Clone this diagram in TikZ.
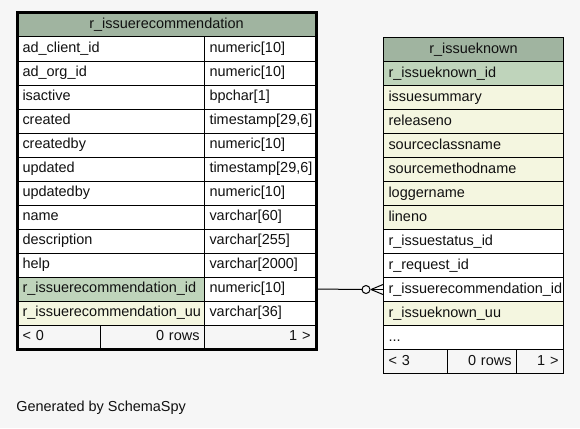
\documentclass[tikz,border=0pt]{standalone}
\usepackage{fontspec}
\setmainfont{Liberation Sans}
\usetikzlibrary{calc}
\definecolor{bgc}{HTML}{F6F6F6}
\definecolor{hdrc}{HTML}{A0B4A0}
\definecolor{pkc}{HTML}{BFD4BB}
\definecolor{ylc}{HTML}{F4F6E0}
\definecolor{txc}{HTML}{111111}
\tikzset{
  cellbox/.style={draw=black, line width=0.75pt, rectangle, inner xsep=3.75pt, inner ysep=0pt,
    minimum height=18pt, text height=7.8pt, text depth=2.2pt, anchor=north west,
    font=\fontsize{10.85pt}{12pt}\selectfont, text=txc},
  conn/.style={draw=black, line width=0.75pt},
}
\newcommand\cellL[6]{\node[cellbox, fill=#5, minimum width={#4*0.75pt}, text width={(#4-10)*0.75pt}, align=left] (#1) at (#2,#3) {#6};}
\newcommand\cellR[6]{\node[cellbox, fill=#5, minimum width={#4*0.75pt}, text width={(#4-10)*0.75pt}, align=right] (#1) at (#2,#3) {#6};}
\newcommand\cellC[6]{\node[cellbox, fill=#5, minimum width={#4*0.75pt}, text width={(#4-10)*0.75pt}, align=center] (#1) at (#2,#3) {#6};}
\begin{document}
\begin{tikzpicture}[x=0.75pt,y=-0.75pt]
\fill[bgc] (0,0) rectangle (580,428);
\useasboundingbox (0,0) rectangle (580,428);
% left table
\cellC{lh}{17}{12.5}{298}{hdrc}{r\_issuerecommendation}
\cellL{l1a}{17}{36.5}{187}{white}{ad\_client\_id}
\cellL{l1b}{204}{36.5}{111}{white}{numeric[10]}
\cellL{l2a}{17}{60.5}{187}{white}{ad\_org\_id}
\cellL{l2b}{204}{60.5}{111}{white}{numeric[10]}
\cellL{l3a}{17}{84.5}{187}{white}{isactive}
\cellL{l3b}{204}{84.5}{111}{white}{bpchar[1]}
\cellL{l4a}{17}{108.5}{187}{white}{created}
\cellL{l4b}{204}{108.5}{111}{white}{timestamp[29,6]}
\cellL{l5a}{17}{132.5}{187}{white}{createdby}
\cellL{l5b}{204}{132.5}{111}{white}{numeric[10]}
\cellL{l6a}{17}{156.5}{187}{white}{updated}
\cellL{l6b}{204}{156.5}{111}{white}{timestamp[29,6]}
\cellL{l7a}{17}{180.5}{187}{white}{updatedby}
\cellL{l7b}{204}{180.5}{111}{white}{numeric[10]}
\cellL{l8a}{17}{204.5}{187}{white}{name}
\cellL{l8b}{204}{204.5}{111}{white}{varchar[60]}
\cellL{l9a}{17}{228.5}{187}{white}{description}
\cellL{l9b}{204}{228.5}{111}{white}{varchar[255]}
\cellL{l10a}{17}{252.5}{187}{white}{help}
\cellL{l10b}{204}{252.5}{111}{white}{varchar[2000]}
\cellL{l11a}{17}{276.5}{187}{pkc}{r\_issuerecommendation\_id}
\cellL{l11b}{204}{276.5}{111}{white}{numeric[10]}
\cellL{l12a}{17}{300.5}{187}{ylc}{r\_issuerecommendation\_uu}
\cellL{l12b}{204}{300.5}{111}{white}{varchar[36]}
\cellL{lfa}{17}{324.5}{83}{bgc}{< 0}
\cellR{lfb}{100}{324.5}{104}{bgc}{0 rows}
\cellR{lfc}{204}{324.5}{111}{bgc}{1 >}
\draw[line width=2.25pt] (lh.north west) rectangle (lfc.south east);
% right table
\cellC{rh}{383}{37}{180}{hdrc}{r\_issueknown}
\cellL{r1}{383}{61}{180}{pkc}{r\_issueknown\_id}
\cellL{r2}{383}{85}{180}{ylc}{issuesummary}
\cellL{r3}{383}{109}{180}{ylc}{releaseno}
\cellL{r4}{383}{133}{180}{ylc}{sourceclassname}
\cellL{r5}{383}{157}{180}{ylc}{sourcemethodname}
\cellL{r6}{383}{181}{180}{ylc}{loggername}
\cellL{r7}{383}{205}{180}{ylc}{lineno}
\cellL{r8}{383}{229}{180}{white}{r\_issuestatus\_id}
\cellL{r9}{383}{253}{180}{white}{r\_request\_id}
\cellL{r10}{383}{277}{180}{white}{r\_issuerecommendation\_id}
\cellL{r11}{383}{301}{180}{ylc}{r\_issueknown\_uu}
\cellL{r12}{383}{325}{180}{white}{...}
\cellL{rfa}{383}{349}{64}{bgc}{< 3}
\cellR{rfb}{447}{349}{69}{bgc}{0 rows}
\cellR{rfc}{516}{349}{47}{bgc}{1 >}
% connector
\coordinate (ce) at (r10.west);
\draw[conn] (l11b.east) -- ($(ce)+(-21,0)$);
\draw[conn] ($(ce)+(-17,0)$) circle (4);
\draw[conn] ($(ce)+(-12,0)$) -- ($(ce)+(0,-5)$);
\draw[conn] ($(ce)+(-12,0)$) -- (ce);
\draw[conn] ($(ce)+(-12,0)$) -- ($(ce)+(0,5)$);
\node[anchor=west, inner sep=0pt, font=\fontsize{10.85pt}{12pt}\selectfont, text=txc] (gen) at (16,408) {Generated by SchemaSpy};
\end{tikzpicture}
\end{document}
